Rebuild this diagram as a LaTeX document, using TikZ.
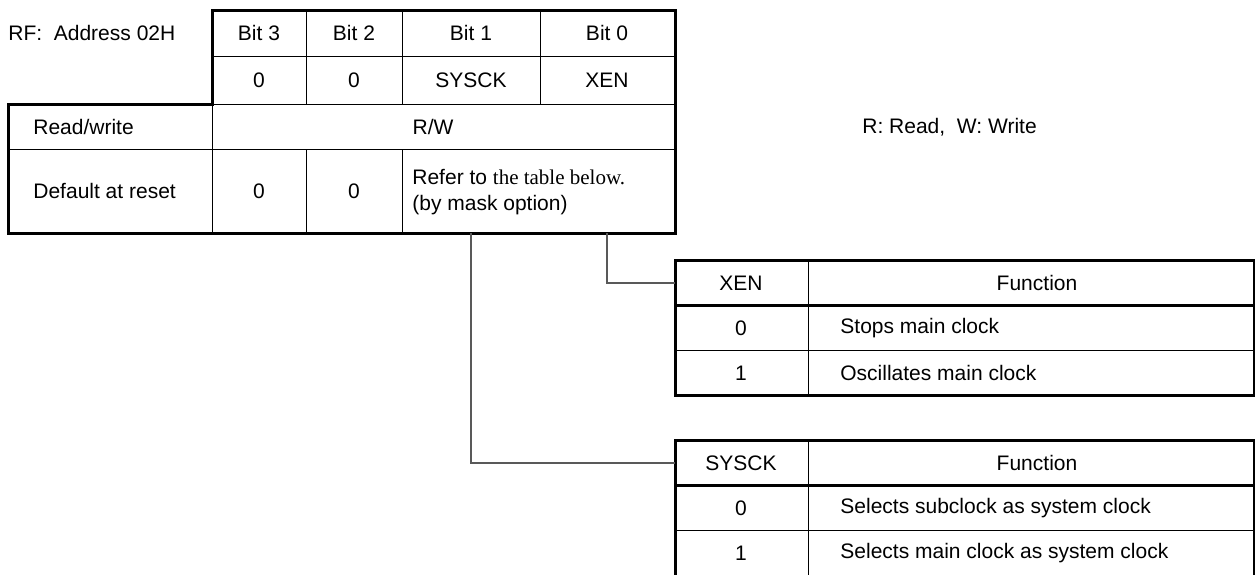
\documentclass[tikz,border=0pt]{standalone}
\usepackage{fontspec}
\setmainfont{Liberation Sans}
\newfontfamily\timesfont{Liberation Serif}
\usetikzlibrary{positioning}
\tikzset{
    %Define style for outer frames
    frame/.style={
           line width=1.5pt},
    %Define style for inner rules
    rule/.style={
           line width=0.5pt},
    %Define style for cell texts
    cell/.style={
           font=\fontsize{10.5}{12.6}\selectfont,
           inner sep=0pt},
    lcell/.style={
           cell,
           anchor=west},
    % Define connector style
    conn/.style={
           line width=0.6pt,
           draw=black!65}
}
\begin{document}
\begin{tikzpicture}[x=0.5pt,y=-0.5pt]
  \useasboundingbox (0,0) rectangle (1255,574);
  % register table
  \node[lcell] (rf) at (8,33) {RF:\ \ Address 02H};
  \node[cell] (b3) at (259,33) {Bit 3};
  \node[cell] (b2) at (354,33) {Bit 2};
  \node[cell] (b1) at (471,33) {Bit 1};
  \node[cell] (b0) at (607,33) {Bit 0};
  \node[cell] (n3) at (259,80) {0};
  \node[cell] (n2) at (354,80) {0};
  \node[cell] (n1) at (471,80) {SYSCK};
  \node[cell] (n0) at (607,80) {XEN};
  \node[lcell] (rwlbl) at (33,127) {Read/write};
  \node[cell] (rw) at (433,127) {R/W};
  \node[lcell] (rwnote) at (862,127) {R: Read,\ \ W: Write};
  \node[lcell] (dflbl) at (33,191) {Default at reset};
  \node[cell] (d3) at (259,191) {0};
  \node[cell] (d2) at (354,191) {0};
  \node[lcell, align=left] (dflt) at (412,192)
    {Refer to {\timesfont the table below.}\\(by mask option)};
  \draw[rule] (212,56) -- (675,56) (212,104) -- (675,104) (8,149) -- (675,149);
  \draw[rule] (306,10) -- (306,104) (402,10) -- (402,104) (540,10) -- (540,104);
  \draw[rule] (212,104) -- (212,233) (306,149) -- (306,233) (402,149) -- (402,233);
  \draw[frame] (8,104) -- (212,104) -- (212,10) -- (675,10) -- (675,233) -- (8,233) -- cycle;
  \coordinate (base) at (0,233);
  % XEN table
  \node[cell] (xenh) at (741,283) {XEN};
  \node[cell] (xenf) at (1037,283) {Function};
  \node[cell] (xen0) at (741,328) {0};
  \node[lcell] (xen0t) at (840,328) {Stops main clock};
  \node[cell] (xen1) at (741,373) {1};
  \node[lcell] (xen1t) at (840,373) {Oscillates main clock};
  \draw[rule] (808,260) -- (808,395) (675,350) -- (1254,350);
  \draw[frame] (675,305) -- (1254,305);
  \draw[frame] (675,260) rectangle (1254,395);
  \coordinate (xen-w) at (675,283);
  % SYSCK table
  \node[cell] (sysh) at (741,463) {SYSCK};
  \node[cell] (sysf) at (1037,463) {Function};
  \node[cell] (sys0) at (741,508) {0};
  \node[lcell] (sys0t) at (840,508) {Selects subclock as system clock};
  \node[cell] (sys1) at (741,553) {1};
  \node[lcell] (sys1t) at (840,553) {Selects main clock as system clock};
  \draw[rule] (808,440) -- (808,580) (675,530) -- (1254,530);
  \draw[frame] (675,485) -- (1254,485);
  \draw[frame] (675,580) -- (675,440) -- (1254,440) -- (1254,580);
  \coordinate (sys-w) at (675,463);
  % connectors
  \draw[conn] (b0 |- base) |- (xen-w);
  \draw[conn] (b1 |- base) |- (sys-w);
\end{tikzpicture}
\end{document}
